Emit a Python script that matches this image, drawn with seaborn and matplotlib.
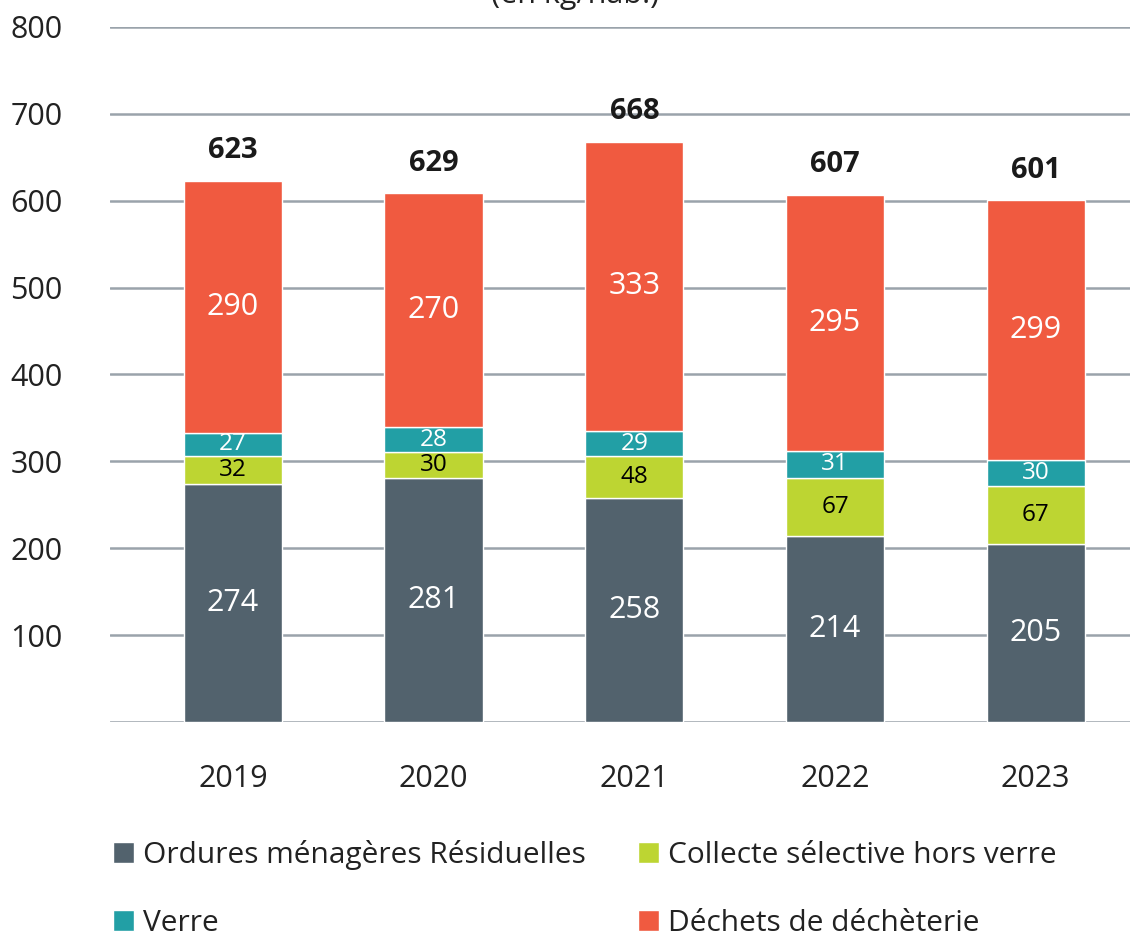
import numpy as np
import pandas as pd
import matplotlib
matplotlib.use("Agg")
import matplotlib.pyplot as plt
import seaborn as sns
from matplotlib.patches import Patch

# data (kg/hab.)
years = ["2019", "2020", "2021", "2022", "2023"]
omr = [274, 281, 258, 214, 205]
collecte = [32, 30, 48, 67, 67]
verre = [27, 28, 29, 31, 30]
decheterie = [290, 270, 333, 295, 299]
totals = [623, 629, 668, 607, 601]

series_names = ["Ordures ménagères Résiduelles", "Collecte sélective hors verre",
                "Verre", "Déchets de déchèterie"]
colors = ["#52626d", "#bdd532", "#229fa5", "#f05a40"]

sns.set_style("white")
plt.rcParams['font.family'] = ['Open Sans', 'DejaVu Sans']

fig = plt.figure(figsize=(11.3, 9.36), dpi=100)
ax = fig.add_axes([0.0973, 0.2286, 0.9027, 0.7426])

df = pd.DataFrame({'year': years, 'omr': omr, 'collecte': collecte,
                   'verre': verre, 'decheterie': decheterie})

bottom = np.zeros(len(years))
cols = ['omr', 'collecte', 'verre', 'decheterie']
for i, c in enumerate(cols):
    sns.barplot(data=df, x='year', y=c, bottom=bottom, color=colors[i],
                width=0.49, saturation=1, ax=ax, zorder=3)
    bottom = bottom + df[c].values

conts = ax.containers
# labels inside segments
ax.bar_label(conts[0], labels=[str(v) for v in omr], label_type='center',
             color='white', fontsize=22)
ax.bar_label(conts[1], labels=[str(v) for v in collecte], label_type='center',
             color='black', fontsize=17.5)
ax.bar_label(conts[2], labels=[str(v) for v in verre], label_type='center',
             color='white', fontsize=17.5)
ax.bar_label(conts[3], labels=[str(v) for v in decheterie], label_type='center',
             color='white', fontsize=22)
# totals
ax.bar_label(conts[3], labels=[str(v) for v in totals], padding=11,
             fontsize=21, fontweight='bold', color='#1a1a1a')

ax.set_ylim(0, 800)
ax.set_xlim(-0.613, 4.47)
ax.set_yticks(range(100, 801, 100))
ax.yaxis.grid(True, color='#9aa3ab', linewidth=1.8, zorder=0)
ax.axhline(0, color='#9aa3ab', linewidth=1.8, zorder=1)
ax.set_axisbelow(True)
for s in ax.spines.values():
    s.set_visible(False)
ax.tick_params(axis='y', length=0, pad=34, labelsize=22, labelcolor='#222222')
ax.tick_params(axis='x', length=0, pad=30, labelsize=22, labelcolor='#222222')
ax.set_xlabel("")
ax.set_ylabel("")

handles = [Patch(facecolor=colors[i], label=series_names[i]) for i in range(4)]
# order so rows are: OMR, Collecte / Verre, Déchets
fig.legend(handles=[handles[0], handles[2], handles[1], handles[3]], ncol=2,
           loc='upper left', bbox_to_anchor=(0.076, 0.131), frameon=False,
           fontsize=21.5, handlelength=0.7, handleheight=0.7, handletextpad=0.3,
           labelspacing=1.3, columnspacing=1.75, labelcolor='#222222',
           bbox_transform=fig.transFigure)

fig.text(0.509, 0.997, "(en kg/hab.)", ha='center', va='baseline',
         fontsize=22, color='#222222')

fig.savefig("out.png", dpi=100)
